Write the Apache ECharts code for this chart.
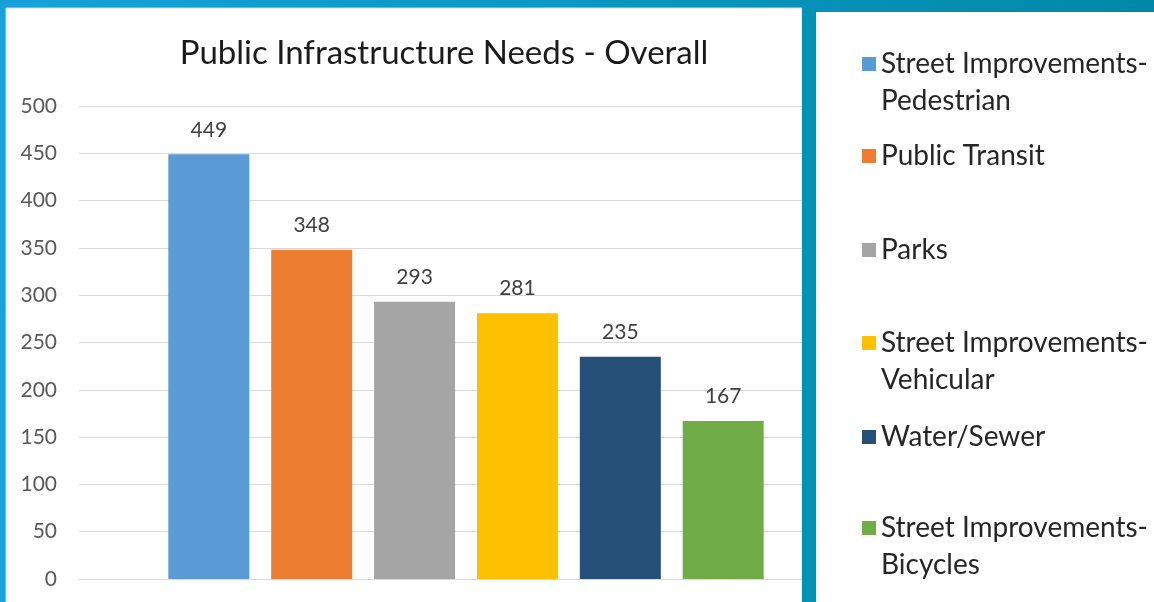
<!DOCTYPE html>
<html>
<head>
<meta charset="utf-8">
<script src="https://cdn.jsdelivr.net/npm/echarts@6/dist/echarts.min.js"></script>
<style>
  html, body { margin: 0; padding: 0; }
  #chart { width: 1154px; height: 602px; }
</style>
</head>
<body>
<div id="chart"></div>
<script>
// Survey counts per infrastructure need
const seriesNames = [
  'Street Improvements-Pedestrian',
  'Public Transit',
  'Parks',
  'Street Improvements-Vehicular',
  'Water/Sewer',
  'Street Improvements-Bicycles'
];
const seriesValues = [449, 348, 293, 281, 235, 167];
const seriesColors = ['#5b9bd5', '#ed7d31', '#a5a5a5', '#ffc000', '#264f78', '#70ad47'];
const yTicks = [0, 50, 100, 150, 200, 250, 300, 350, 400, 450, 500];

const FONT = 'Lato, "Open Sans", sans-serif';
const chart = echarts.init(document.getElementById('chart'), null, { renderer: 'canvas' });

// One legend block per series; the marker sits on the first text line.
const LINE_H = 37;
const ICON = 14;
const markerCenters = [64, 156, 250, 343, 437, 528];
const legends = seriesNames.map((name, i) => {
  const twoLine = name.indexOf('Improvements-') >= 0;
  // a leading blank line keeps the first visible line centred on the marker
  const lines = twoLine ? 3 : 1;
  const boxTop = ICON / 2 - (lines * LINE_H) / 2;
  return {
    data: [name],
    left: 862,
    top: markerCenters[i] - ICON / 2 + boxTop,
    padding: 0,
    orient: 'vertical',
    itemWidth: ICON,
    itemHeight: ICON,
    itemGap: 0,
    icon: 'rect',
    z: 120,
    selectedMode: false,
    formatter: n => n.indexOf('Improvements-') >= 0
      ? '\n' + n.replace('Improvements-', 'Improvements-\n')
      : n,
    textStyle: {
      fontFamily: FONT,
      fontSize: 28,
      color: '#262626',
      lineHeight: LINE_H
    }
  };
});

const option = {
  backgroundColor: {
    type: 'linear', x: 0, y: 0, x2: 1, y2: 0,
    colorStops: [
      { offset: 0, color: '#17a1d8' },
      { offset: 0.6, color: '#0a95c0' },
      { offset: 1, color: '#0088a6' }
    ]
  },
  animation: false,
  title: {
    text: 'Public Infrastructure Needs - Overall',
    left: 439,
    textAlign: 'center',
    top: 32,
    textStyle: { fontFamily: FONT, fontSize: 33, fontWeight: 'normal', color: '#1a1a1a' }
  },
  graphic: [
    { type: 'rect', z: -10, shape: { x: 6, y: 8, width: 796, height: 600 },
      style: { fill: '#ffffff', stroke: '#d9d9d9', lineWidth: 1 } },
    { type: 'rect', z: 100, shape: { x: 802, y: 8, width: 14, height: 600 },
      style: { fill: '#0093b4' } },
    { type: 'rect', z: 101, shape: { x: 816, y: 12, width: 340, height: 600 },
      style: { fill: '#ffffff' } }
  ],
  legend: legends,
  grid: { left: 79, right: 301, top: 106, bottom: 23, containLabel: false },
  xAxis: {
    type: 'category',
    data: [''],
    axisLine: { show: true, lineStyle: { color: '#d9d9d9', width: 1 } },
    axisTick: { show: false },
    axisLabel: { show: false }
  },
  yAxis: {
    type: 'value',
    min: yTicks[0],
    max: yTicks[yTicks.length - 1],
    interval: 50,
    axisLine: { show: false },
    axisTick: { show: false },
    axisLabel: { fontFamily: FONT, fontSize: 21, color: '#595959', margin: 22 },
    splitLine: { lineStyle: { color: '#d9d9d9', width: 1 } }
  },
  series: seriesNames.map((name, i) => ({
    name: name,
    type: 'bar',
    data: [seriesValues[i]],
    barWidth: 81,
    barGap: '27%',
    itemStyle: { color: seriesColors[i] },
    label: {
      show: true,
      position: 'top',
      distance: 14,
      fontFamily: FONT,
      fontSize: 21,
      color: '#404040'
    }
  }))
};

chart.setOption(option);
</script>
</body>
</html>
